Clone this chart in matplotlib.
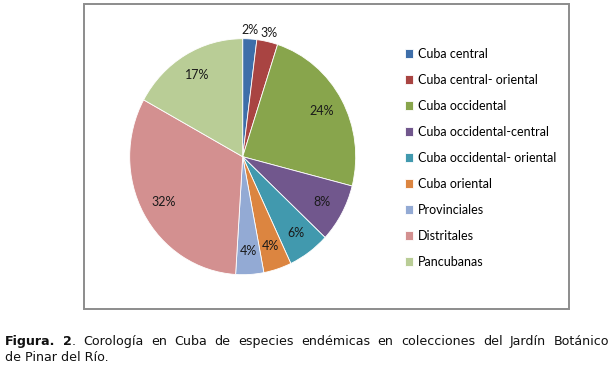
import matplotlib.pyplot as plt
from matplotlib.patches import Rectangle

categorias = ['Cuba central', 'Cuba central- oriental', 'Cuba occidental',
              'Cuba occidental-central', 'Cuba occidental- oriental', 'Cuba oriental',
              'Provinciales', 'Distritales', 'Pancubanas']
porcentajes = [2, 3, 24, 8, 6, 4, 4, 32, 17]
colores = ['#3e6ea9', '#a94442', '#88a54c', '#71578d', '#4199ae',
           '#dc8540', '#93aad4', '#d39090', '#b9cd96']

pie_font = 'Lato'
W, H = 612, 368

fig = plt.figure(figsize=(W / 100, H / 100), dpi=100)

# marco del grafico
fig.patches.append(Rectangle((84 / W, 1 - 309 / H), (569 - 84) / W, (309 - 4) / H,
                             transform=fig.transFigure, fill=False,
                             edgecolor='#8c8c8c', linewidth=1.4))

# pie (ligeramente eliptico como en la imagen)
cx, cy, rx, ry = 242.7, 156.7, 113, 118
ax = fig.add_axes([(cx - rx) / W, 1 - (cy + ry) / H, 2 * rx / W, 2 * ry / H])
wedges, texts, autotexts = ax.pie(porcentajes, colors=colores, startangle=90,
                                  counterclock=False, autopct='%1.0f%%',
                                  pctdistance=0.8,
                                  wedgeprops=dict(edgecolor='white', linewidth=0.6),
                                  textprops=dict(fontsize=9, family=pie_font,
                                                 color='#1a1a1a'))
ax.set_aspect('auto')
ax.set_xlim(-1, 1)
ax.set_ylim(-1, 1)

# las dos porciones pequenas llevan la etiqueta fuera
for t in autotexts[:2]:
    x, y = t.get_position()
    t.set_position((x * 1.34, y * 1.34))

fig.legend(wedges, categorias, loc='upper left',
           bbox_to_anchor=(405 / W, 1 - 48 / H), frameon=False,
           borderpad=0, borderaxespad=0, handlelength=0.65, handleheight=0.65,
           handletextpad=0.4, labelspacing=1.12,
           prop=dict(family=pie_font, size=9))

# pie de figura
fig.canvas.draw()
r = fig.canvas.get_renderer()
cap_size = 9.1
palabras1 = ['Figura.', '2', '.', 'Corología', 'en', 'Cuba', 'de', 'especies', 'endémicas',
             'en', 'colecciones', 'del', 'Jardín', 'Botánico']
negrita = [True, True, False] + [False] * 11
y1 = 1 - 345 / H
x0, x1 = 5, 609
objs = []
for w, b in zip(palabras1, negrita):
    t = fig.text(0, y1, w, fontsize=cap_size, fontweight='bold' if b else 'normal',
                 va='baseline', family='DejaVu Sans', color='#111111')
    objs.append(t)
widths = [t.get_window_extent(r).width for t in objs]
# "2" y "." van pegados
grupos = [[0], [1, 2]] + [[i] for i in range(3, len(objs))]
ancho_total = sum(widths)
gap = (x1 - x0 - ancho_total) / (len(grupos) - 1)
x = x0
for g in grupos:
    for i in g:
        objs[i].set_x(x / W)
        x += widths[i]
    x += gap
fig.text(x0 / W, 1 - 361 / H, 'de Pinar del Río.', fontsize=cap_size,
         va='baseline', family='DejaVu Sans', color='#111111')

fig.savefig('out.png', dpi=100)
